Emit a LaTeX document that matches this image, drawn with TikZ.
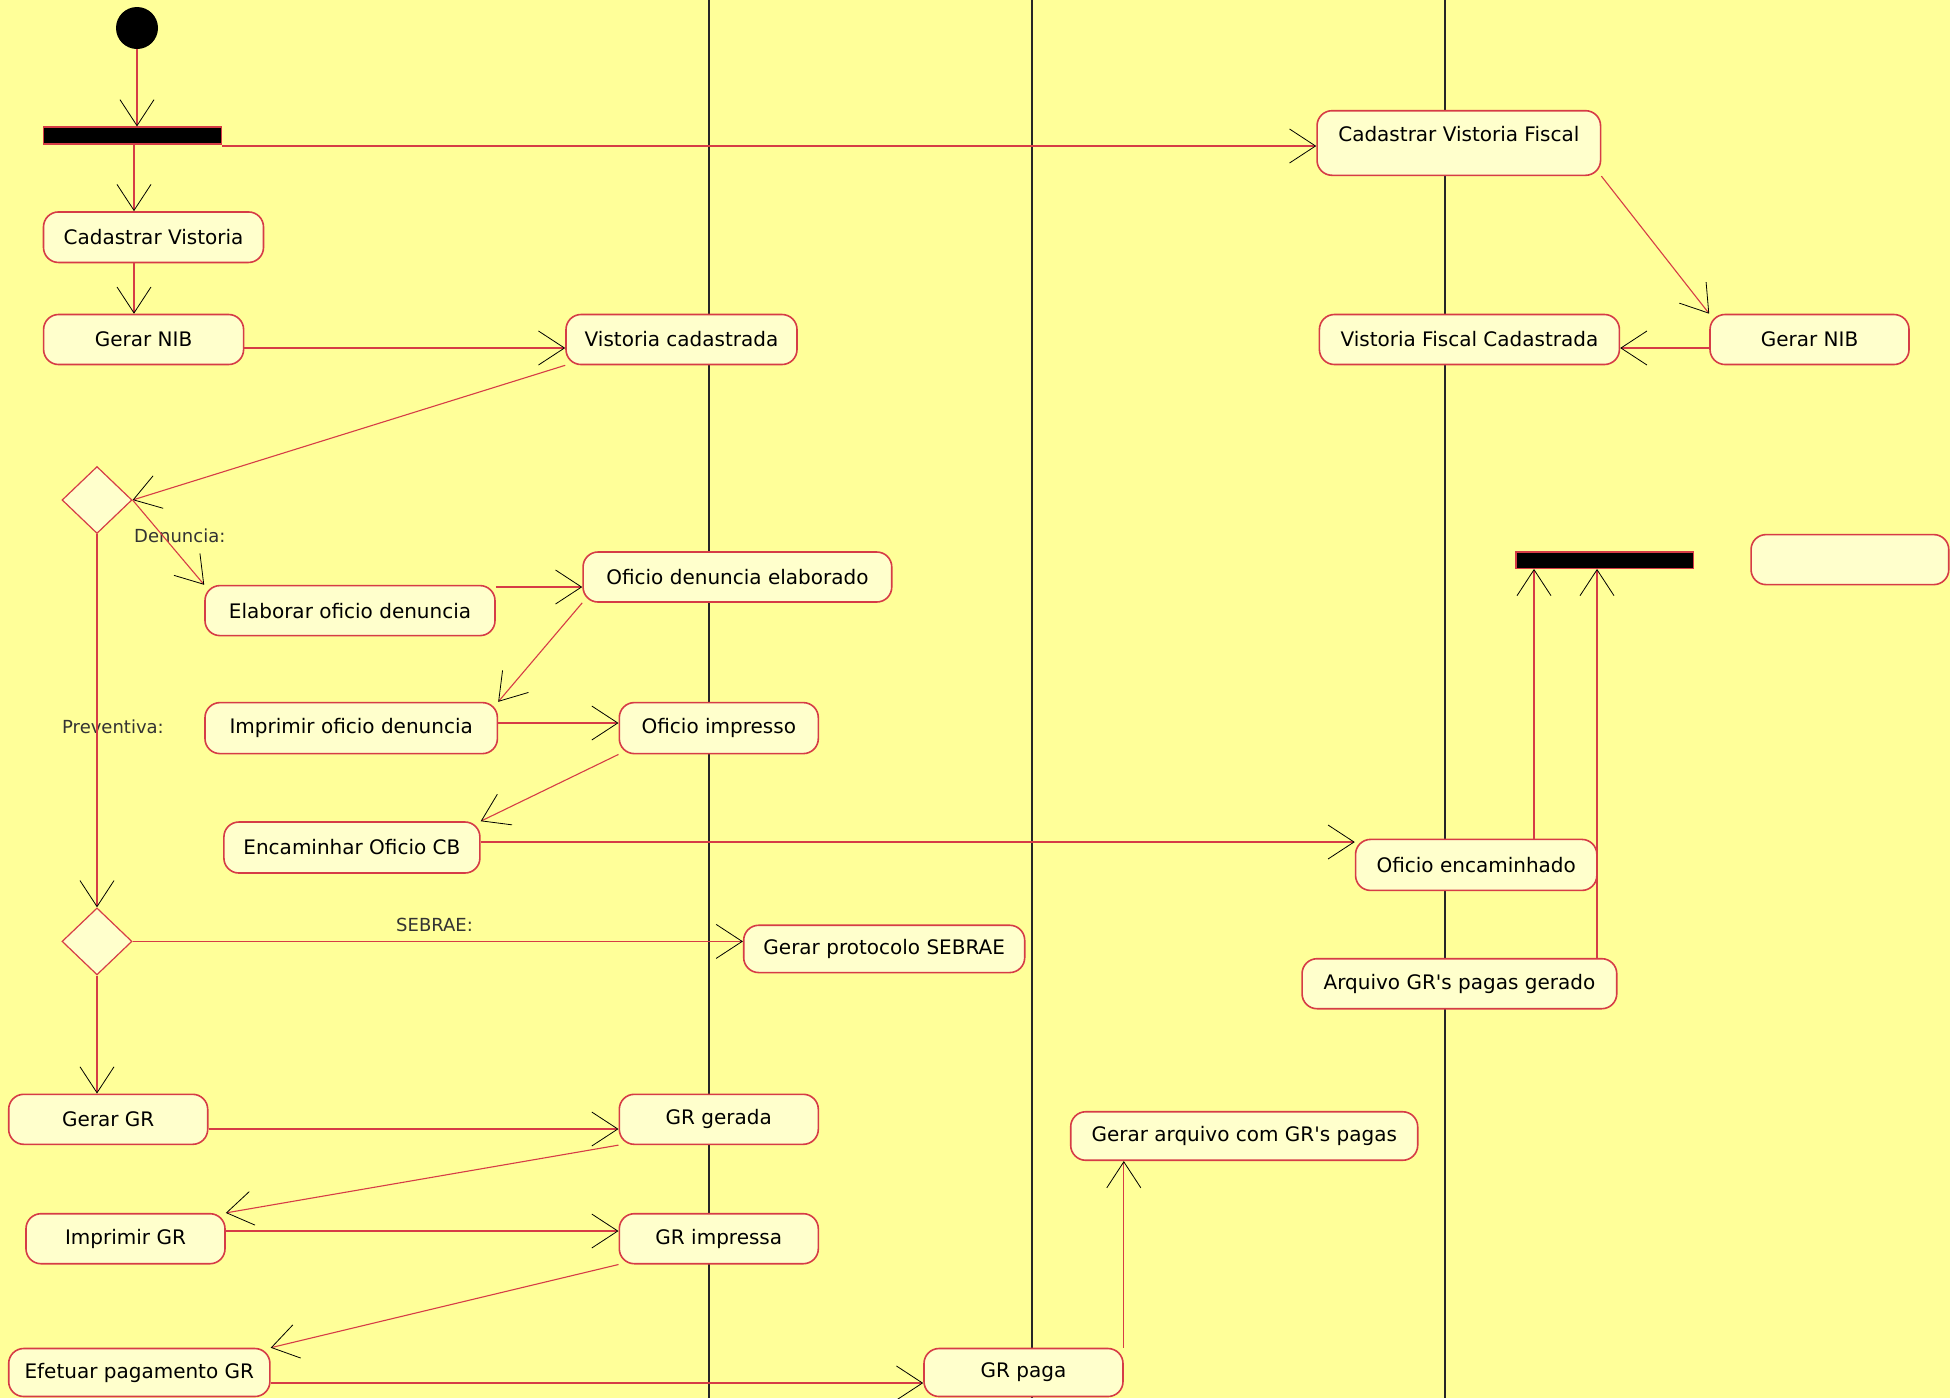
\documentclass[tikz,border=0pt]{standalone}
\usepackage{fontspec}
\setmainfont{DejaVu Sans}[Ligatures=TeXOff]
\usetikzlibrary{arrows.meta,shapes.geometric}
\definecolor{bgyellow}{RGB}{255,255,153}
\definecolor{nodefill}{RGB}{255,255,204}
\definecolor{umlred}{RGB}{214,60,70}
\tikzset{
  act/.style={draw=umlred, fill=nodefill, line width=1.6pt, rounded corners=15pt,
    inner sep=0pt, font=\fontsize{20}{24}\selectfont, text=black},
  bar/.style={draw=umlred, fill=black, line width=1.2pt, inner sep=0pt},
  choice/.style={diamond, draw=umlred, fill=nodefill, line width=1.2pt, inner sep=0pt,
    minimum width=70pt, minimum height=67pt},
  startdot/.style={circle, fill=black, inner sep=0pt, minimum size=42pt},
  flow/.style={draw=umlred, line width=1.1pt,
    -{Straight Barb[length=26pt, width=34pt, color=black, line width=0.8pt]}},
  lbl/.style={font=\fontsize{18}{22}\selectfont, text=black!80, inner sep=0pt},
  lane/.style={draw=black!85, line width=1.2pt}
}
\begin{document}
\begin{tikzpicture}[x=1pt,y=-1pt]
\fill[bgyellow] (0,0) rectangle (1950,1398);
\useasboundingbox (0,0) rectangle (1950,1398);
% swimlane separators
\draw[lane] (709,0) -- (709,1398);
\draw[lane] (1032,0) -- (1032,1398);
\draw[lane] (1445,0) -- (1445,1398);

% nodes
\node[startdot] (init) at (137,28) {};
\node[bar, minimum width=178pt, minimum height=17pt] (fork1) at (132.5,135.5) {};
\node[act, minimum width=220pt, minimum height=50.5pt] (cv) at (153.5,237.2) {Cadastrar Vistoria};
\node[act, minimum width=200pt, minimum height=50pt] (gnl) at (143.6,339.5) {Gerar NIB};
\node[act, minimum width=231pt, minimum height=50pt] (vc) at (681.5,339.5) {Vistoria cadastrada};
\node[act, minimum width=283.5pt, minimum height=64.6pt, align=center] (cvf) at (1458.8,143) {Cadastrar Vistoria Fiscal\\[-12pt]\strut};
\node[act, minimum width=300pt, minimum height=50pt] (vfc) at (1469.4,339.5) {Vistoria Fiscal Cadastrada};
\node[act, minimum width=199pt, minimum height=50pt] (gnr) at (1809.5,339.5) {Gerar NIB};
\node[choice] (d1) at (97,500) {};
\node[act, minimum width=290pt, minimum height=50pt] (eod) at (350,610.6) {Elaborar oficio denuncia};
\node[act, minimum width=308.7pt, minimum height=50pt] (ode) at (737.4,577) {Oficio denuncia elaborado};
\node[act, minimum width=292.4pt, minimum height=51pt] (iod) at (351.2,728.1) {Imprimir oficio denuncia};
\node[act, minimum width=199pt, minimum height=51pt] (oi) at (718.8,728.1) {Oficio impresso};
\node[act, minimum width=256pt, minimum height=51pt] (eoc) at (351.9,847.5) {Encaminhar Oficio CB};
\node[act, minimum width=241.3pt, minimum height=51pt] (oe) at (1476.2,864.9) {Oficio encaminhado};
\node[act, minimum width=314.7pt, minimum height=50pt] (agr) at (1459.4,983.7) {Arquivo GR's pagas gerado};
\node[bar, minimum width=177.8pt, minimum height=16.3pt] (join) at (1604.9,560.2) {};
\node[act, minimum width=197.7pt, minimum height=50pt] (empty) at (1849.9,559.6) {};
\node[choice] (d2) at (97,941.4) {};
\node[act, minimum width=281pt, minimum height=47.3pt] (sebrae) at (884.2,948.9) {Gerar protocolo SEBRAE};
\node[act, minimum width=199pt, minimum height=50pt] (ggr) at (108.2,1119.3) {Gerar GR};
\node[act, minimum width=199pt, minimum height=50pt] (grg) at (718.8,1119.3) {GR gerada};
\node[act, minimum width=199pt, minimum height=50pt] (igr) at (125.5,1238.7) {Imprimir GR};
\node[act, minimum width=199pt, minimum height=50pt] (gri) at (718.8,1238.7) {GR impressa};
\node[act, minimum width=261.2pt, minimum height=48pt] (epg) at (139.3,1372.5) {Efetuar pagamento GR};
\node[act, minimum width=199pt, minimum height=48pt] (grp) at (1023.5,1372.5) {GR paga};
\node[act, minimum width=347pt, minimum height=48.5pt] (gac) at (1244.2,1136) {Gerar arquivo com GR's pagas};

% guard labels
\node[lbl, anchor=west] (ldenuncia) at (134,536) {Denuncia:};
\node[lbl, anchor=west] (lpreventiva) at (62,727) {Preventiva:};
\node[lbl, anchor=west] (lsebrae) at (396,925) {SEBRAE:};

% connectors
\draw[flow] (init) -- (init |- fork1.north);
\draw[flow] (134,0 |- fork1.south) -- (134,0 |- cv.north);
\draw[flow] (fork1.east |- 0,146) -- (cvf.west |- 0,146);
\draw[flow] (134,0 |- cv.south) -- (134,0 |- gnl.north);
\draw[flow] (gnl.east |- 0,348) -- (vc.west |- 0,348);
\draw[flow] (vc.south west) -- (d1.east);
\draw[flow] (d1.east) -- (eod.north west);
\draw[flow] (d1.south) -- (d2.north);
\draw[flow] (eod.north east |- 0,587) -- (ode.west |- 0,587);
\draw[flow] (ode.south west) -- (iod.north east);
\draw[flow] (iod.east |- 0,723) -- (oi.west |- 0,723);
\draw[flow] (oi.south west) -- (eoc.north east);
\draw[flow] (eoc.east |- 0,842) -- (oe.west |- 0,842);
\draw[flow] (1534,0 |- oe.north) -- (1534,0 |- join.south);
\draw[flow] (1597,0 |- agr.north) -- (1597,0 |- join.south);
\draw[flow] (cvf.south east) -- (gnr.north west);
\draw[flow] (gnr.west |- 0,348) -- (vfc.east |- 0,348);
\draw[flow] (d2.east) -- (sebrae.west |- d2.east);
\draw[flow] (d2.south) -- (d2.south |- ggr.north);
\draw[flow] (ggr.east |- 0,1129) -- (grg.west |- 0,1129);
\draw[flow] (grg.south west) -- (igr.north east);
\draw[flow] (igr.east |- 0,1231) -- (gri.west |- 0,1231);
\draw[flow] (gri.south west) -- (epg.north east);
\draw[flow] (epg.east |- 0,1383) -- (grp.west |- 0,1383);
\draw[flow] (grp.north east) -- (grp.north east |- gac.south);
\end{tikzpicture}
\end{document}
